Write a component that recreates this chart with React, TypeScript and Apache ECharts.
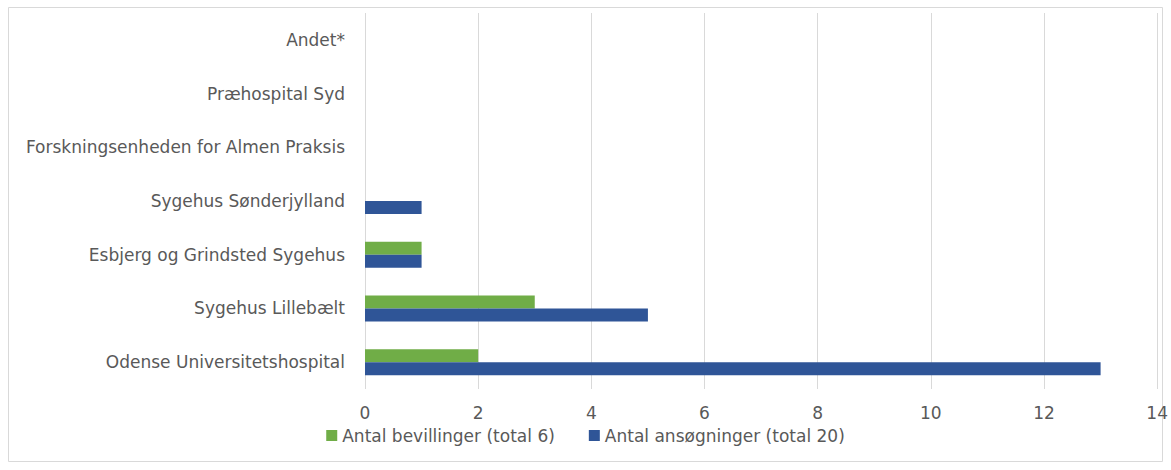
import React, { useEffect, useRef } from "react";
import * as echarts from "echarts";

const categories = [
  "Odense Universitetshospital",
  "Sygehus Lillebælt",
  "Esbjerg og Grindsted Sygehus",
  "Sygehus Sønderjylland",
  "Forskningsenheden for Almen Praksis",
  "Præhospital Syd",
  "Andet*",
];
const bevillinger = [2, 3, 1, 0, 0, 0, 0];
const ansoegninger = [13, 5, 1, 1, 0, 0, 0];
const seriesNames = ["Antal bevillinger (total 6)", "Antal ansøgninger (total 20)"];
const xTicks = { min: 0, max: 14, interval: 2 };

const FONT = "'DejaVu Sans', sans-serif";
const TXT = "#595959";
const FS = 17;

export default function App() {
  const ref = useRef<HTMLDivElement>(null);
  useEffect(() => {
    if (!ref.current) return;
    const chart = echarts.init(ref.current, undefined, { renderer: "svg" });
    chart.setOption({
      animation: false,
      backgroundColor: "#ffffff",
      textStyle: { fontFamily: FONT },
      graphic: [
        {
          type: "rect",
          shape: { x: 8.5, y: 7.5, width: 1154, height: 454 },
          style: { fill: "none", stroke: "#d9d9d9", lineWidth: 1 },
          silent: true,
          z: -1,
        },
      ],
      grid: { left: 365, right: 11, top: 13, bottom: 81, containLabel: false },
      legend: {
        data: seriesNames,
        bottom: 21,
        left: "center",
        icon: "rect",
        itemWidth: 11,
        itemHeight: 11,
        itemGap: 34,
        itemStyle: { borderWidth: 0 },
        textStyle: { color: TXT, fontSize: FS, fontFamily: FONT },
      },
      xAxis: {
        type: "value",
        min: xTicks.min,
        max: xTicks.max,
        interval: xTicks.interval,
        axisLine: { show: false },
        axisTick: { show: false },
        splitLine: { show: true, lineStyle: { color: "#d9d9d9", width: 1 } },
        axisLabel: { color: TXT, fontSize: FS, margin: 15, fontFamily: FONT },
      },
      yAxis: {
        type: "category",
        data: categories,
        axisLine: { show: false },
        axisTick: { show: false },
        axisLabel: { color: TXT, fontSize: FS, margin: 20, fontFamily: FONT },
      },
      series: [
        {
          name: seriesNames[0],
          type: "bar",
          data: bevillinger,
          barWidth: 13,
          barGap: "0%",
          itemStyle: { color: "#70AD47" },
        },
        {
          name: seriesNames[1],
          type: "bar",
          data: ansoegninger,
          barWidth: 13,
          barGap: "0%",
          itemStyle: { color: "#2F5597" },
        },
      ],
    });
    return () => chart.dispose();
  }, []);
  return (
    <div
      ref={ref}
      style={{ position: "absolute", left: 0, top: 0, width: 1171, height: 470 }}
    />
  );
}
